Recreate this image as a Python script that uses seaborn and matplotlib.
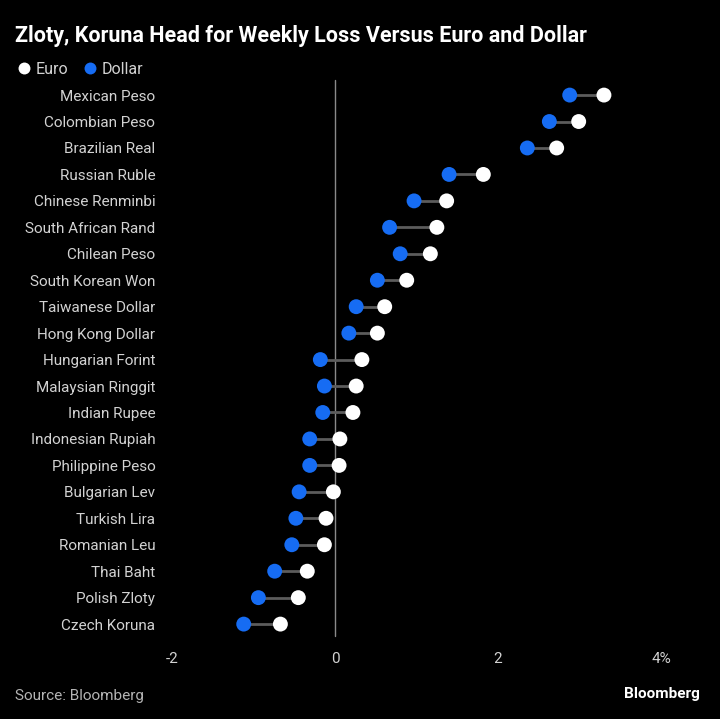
import numpy as np
import pandas as pd
import matplotlib
matplotlib.use("Agg")
import matplotlib.pyplot as plt
import seaborn as sns

# values (weekly % change)
currencies = [
    "Mexican Peso", "Colombian Peso", "Brazilian Real", "Russian Ruble",
    "Chinese Renminbi", "South African Rand", "Chilean Peso", "South Korean Won",
    "Taiwanese Dollar", "Hong Kong Dollar", "Hungarian Forint", "Malaysian Ringgit",
    "Indian Rupee", "Indonesian Rupiah", "Philippine Peso", "Bulgarian Lev",
    "Turkish Lira", "Romanian Leu", "Thai Baht", "Polish Zloty", "Czech Koruna",
]
euro = [3.30, 2.99, 2.72, 1.82, 1.37, 1.25, 1.17, 0.88, 0.61, 0.52,
        0.33, 0.26, 0.22, 0.06, 0.05, -0.02, -0.11, -0.13, -0.34, -0.45, -0.67]
dollar = [2.88, 2.63, 2.36, 1.40, 0.97, 0.67, 0.80, 0.52, 0.26, 0.17,
          -0.18, -0.13, -0.15, -0.31, -0.31, -0.44, -0.48, -0.53, -0.74, -0.94, -1.12]
x_ticks = [-2, 0, 2, 4]
x_tick_labels = ["-2", "0", "2", "4%"]

BG = "black"
BLUE = "#166cf3"
LABEL = "#d2d2d2"

sns.set_style("dark")
plt.rcParams["font.family"] = ["Roboto", "DejaVu Sans"]

df = pd.DataFrame({"currency": currencies, "Euro": euro, "Dollar": dollar})
long_df = df.melt(id_vars="currency", var_name="series", value_name="change")

fig = plt.figure(figsize=(7.2, 7.19), dpi=100, facecolor=BG)
ax = fig.add_axes([172 / 720, 1 - 636 / 719, (661 - 172) / 720, (636 - 80) / 719])
ax.set_facecolor(BG)

sns.scatterplot(data=long_df, x="change", y="currency", hue="series",
                hue_order=["Euro", "Dollar"],
                palette={"Euro": "white", "Dollar": BLUE},
                s=115, linewidth=0, zorder=3, ax=ax, legend=True)

# connector lines between the two points
ax.hlines(y=currencies, xmin=df["Dollar"], xmax=df["Euro"],
          color="#5c5c5c", linewidth=2, zorder=2)
ax.axvline(0, color="#8a8a8a", linewidth=1, zorder=1, clip_on=False)

ax.set_xlim(-2, 4)
ax.set_ylim(20.45, -0.57)
ax.set_xticks(x_ticks)
ax.set_xticklabels(x_tick_labels)
ax.set_xlabel("")
ax.set_ylabel("")
ax.grid(False)
for s in ax.spines.values():
    s.set_visible(False)
ax.tick_params(axis="x", colors="#8a8a8a", length=8.5, width=1, direction="out",
               pad=3, labelsize=11, labelcolor=LABEL)
ax.tick_params(axis="y", length=0, pad=12, labelsize=11, labelcolor=LABEL)

# legend at top-left
handles, labels = ax.get_legend_handles_labels()
ax.legend(handles, labels, loc="center left", bbox_to_anchor=(0 / 720, 1 - 69 / 719),
          bbox_transform=fig.transFigure, ncol=2, frameon=False,
          handletextpad=0.1, columnspacing=0.8, markerscale=0.8,
          prop={"size": 11.5}, labelcolor=LABEL, handlelength=1.2)

fig.text(15 / 720, 1 - 36 / 719, "Zloty, Koruna Head for Weekly Loss Versus Euro and Dollar",
         color="white", fontsize=15.5, fontweight="bold", va="center", ha="left")
fig.text(15 / 720, 1 - 696 / 719, "Source: Bloomberg", color="#b4b4b4",
         fontsize=11, va="center", ha="left")
fig.text(700 / 720, 1 - 694 / 719, "Bloomberg", color="white",
         fontsize=11, fontweight="bold", va="center", ha="right")

fig.savefig("out.png", dpi=100, facecolor=BG)
